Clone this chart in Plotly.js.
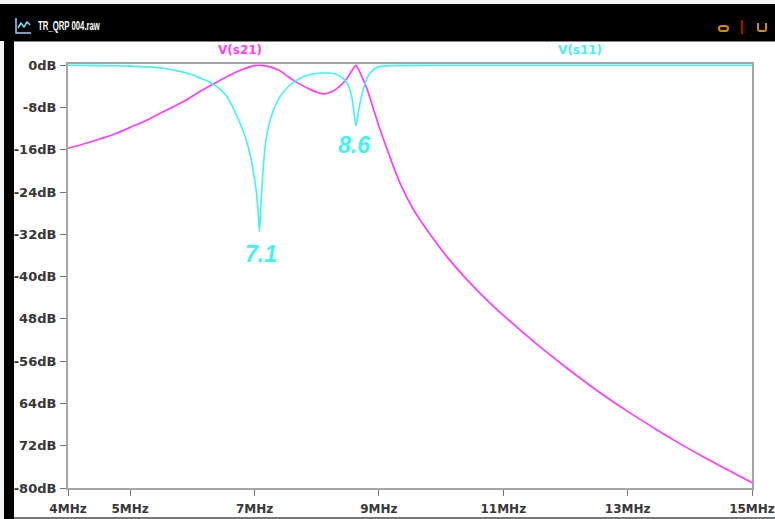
<!DOCTYPE html>
<html>
<head>
<meta charset="utf-8">
<script src="https://cdn.plot.ly/plotly-3.0.1.min.js"></script>
<style>
  html, body { margin: 0; padding: 0; background: #ffffff; }
  #win { position: relative; width: 775px; height: 519px; overflow: hidden; background: #f4f4f4; }
  #titlebar { position: absolute; left: 0; top: 4px; width: 775px; height: 37px; background: #000; }
  #leftbar { position: absolute; left: 4px; top: 40px; width: 10px; height: 479px; background: #000; }
  #panel { position: absolute; left: 14px; top: 41px; width: 761px; height: 475px; background: #fff; border-top: 1px solid #888; border-bottom: 2px solid #777; }
  #ttl { position: absolute; left: 38px; top: 19px; color: #fff; font-family: "Liberation Sans", Arial, sans-serif; font-weight: bold; font-size: 12.5px; transform: scaleX(0.62); transform-origin: left center; white-space: nowrap; }
  #icon { position: absolute; left: 15px; top: 18px; width: 17px; height: 16px; }
  #plot { position: absolute; left: 0; top: 0; width: 775px; height: 519px; }
  .ic1 { position: absolute; left: 718px; top: 25px; width: 11px; height: 7px; border: 2px solid #d98c00; border-radius: 4px; box-sizing: border-box; }
  .ic2 { position: absolute; left: 741px; top: 20px; width: 2px; height: 14px; background: #c00000; }
  .ic3 { position: absolute; left: 757px; top: 23px; width: 10px; height: 9px; border: 2px solid #d98c00; border-top: none; border-radius: 0 0 3px 3px; box-sizing: border-box; }
</style>
</head>
<body>
<div id="win">
  <div id="titlebar"></div>
  <svg id="icon" viewBox="0 0 17 16">
    <polyline points="1,0 1,15 16,15" fill="none" stroke="#9fd0ff" stroke-width="1.5"/>
    <polyline points="3,10 6,5 9,9 12,4 15,7" fill="none" stroke="#7fe0ff" stroke-width="1.5"/>
  </svg>
  <div id="ttl">TR_QRP 004.raw</div>
  <div class="ic1"></div><div class="ic2"></div><div class="ic3"></div>
  <div id="leftbar"></div>
  <div id="panel"></div>
  <div id="plot"></div>
</div>
<script>
// ---- data ----
const tickFreqs = [4, 5, 7, 9, 11, 13, 15];
const tickFreqLabels = ["4MHz", "5MHz", "7MHz", "9MHz", "11MHz", "13MHz", "15MHz"];
const tickDb = [0, -8, -16, -24, -32, -40, -48, -56, -64, -72, -80];
const tickDbLabels = ["0dB", "-8dB", "-16dB", "-24dB", "-32dB", "-40dB", "48dB", "-56dB", "64dB", "72dB", "-80dB"];

const s21Freq = [4.0, 4.25, 4.5, 4.75, 5.05, 5.3, 5.53, 5.75, 5.91, 6.1, 6.33, 6.5, 6.65, 6.8, 6.95, 7.05, 7.15, 7.25, 7.4, 7.5, 7.62, 7.75, 7.9, 8.0, 8.1, 8.2, 8.3, 8.4, 8.48, 8.55, 8.6, 8.63, 8.67, 8.72, 8.81, 8.9, 9.02, 9.15, 9.34, 9.55, 9.8, 10.1, 10.42, 10.7, 11.0, 11.5, 12.0, 12.5, 13.0, 13.5, 13.84, 14.2, 14.6, 15.0];
const s21Db = [-15.7, -14.9, -14.0, -13.0, -11.5, -10.2, -8.8, -7.5, -6.5, -5.1, -3.6, -2.5, -1.6, -0.8, -0.2, 0.0, -0.05, -0.3, -1.0, -1.8, -2.8, -3.7, -4.6, -5.1, -5.4, -5.2, -4.6, -3.6, -2.6, -1.3, -0.4, 0.0, -0.7, -2.0, -4.5, -7.8, -12.2, -16.5, -22.3, -27.2, -31.6, -36.3, -40.6, -44.0, -47.3, -52.4, -57.1, -61.5, -65.5, -69.2, -71.6, -74.0, -76.5, -79.0];

const s11Freq = [4.0, 4.5, 5.0, 5.3, 5.5, 5.75, 6.0, 6.12, 6.25, 6.4, 6.55, 6.65, 6.75, 6.85, 6.92, 6.98, 7.03, 7.06, 7.08, 7.1, 7.13, 7.17, 7.22, 7.3, 7.4, 7.52, 7.65, 7.8, 7.95, 8.1, 8.25, 8.35, 8.45, 8.52, 8.57, 8.6, 8.63, 8.66, 8.7, 8.75, 8.81, 8.88, 8.95, 9.05, 9.2, 10.0, 15.0];
const s11Db = [0.0, -0.05, -0.15, -0.3, -0.5, -1.0, -1.8, -2.4, -3.0, -4.1, -5.8, -7.9, -10.5, -13.5, -16.5, -20.0, -24.0, -28.0, -31.5, -27.0, -21.0, -15.5, -11.8, -8.6, -6.1, -4.3, -3.0, -2.1, -1.6, -1.45, -1.5, -1.9, -2.8, -4.1, -6.5, -9.0, -11.5, -9.5, -7.0, -4.5, -2.4, -1.2, -0.5, -0.15, -0.05, 0.0, 0.0];

const traceNames = ["V(s21)", "V(s11)"];
const markerLabels = ["7.1", "8.6"];
const markerFreqs = [7.1, 8.6];
const markerLabelDb = [-35.7, -15.1];

const MAG = "#ff3cff";
const CYA = "#3ef4f4";

const traces = [
  { x: s21Freq, y: s21Db, type: "scatter", mode: "lines", name: traceNames[0],
    line: { color: MAG, width: 1.7, shape: "spline", smoothing: 0.8 }, hoverinfo: "skip" },
  { x: s11Freq, y: s11Db, type: "scatter", mode: "lines", name: traceNames[1],
    line: { color: CYA, width: 1.6, shape: "spline", smoothing: 0.6 }, hoverinfo: "skip" }
];

const yTickFont = { family: "DejaVu Sans, Arial, sans-serif", size: 13, color: "#383838", weight: "bold" };
const xTickFont = { family: "DejaVu Sans, Arial, sans-serif", size: 12, color: "#383838", weight: "bold" };

const layout = {
  width: 775, height: 519,
  margin: { l: 68, r: 23, t: 64, b: 31, pad: 0 },
  paper_bgcolor: "rgba(0,0,0,0)",
  plot_bgcolor: "#ffffff",
  showlegend: false,
  xaxis: {
    range: [4, 15], tickmode: "array", tickvals: tickFreqs, ticktext: tickFreqLabels,
    showgrid: false, zeroline: false, showline: true, linecolor: "#a6a6a6", linewidth: 2, mirror: true,
    ticks: "outside", ticklen: 6, tickcolor: "#777", tickwidth: 1, ticklabelstandoff: 3,
    ticklabeloverflow: "allow", tickfont: xTickFont, fixedrange: true
  },
  yaxis: {
    range: [-80, 0.25], tickmode: "array", tickvals: tickDb, ticktext: tickDbLabels,
    showgrid: false, zeroline: false, showline: true, linecolor: "#a6a6a6", linewidth: 2, mirror: true,
    ticks: "outside", ticklen: 6, tickcolor: "#777", tickwidth: 1, ticklabelstandoff: 1,
    ticklabeloverflow: "allow", tickfont: yTickFont, fixedrange: true
  },
  annotations: [
    { xref: "paper", yref: "paper", x: (240 - 68) / 684, y: (488 - 50) / 424, text: traceNames[0],
      showarrow: false, xanchor: "center", yanchor: "middle",
      font: { family: "DejaVu Sans, Arial, sans-serif", size: 12, color: MAG, weight: "bold" } },
    { xref: "paper", yref: "paper", x: (580 - 68) / 684, y: (488 - 50) / 424, text: traceNames[1],
      showarrow: false, xanchor: "center", yanchor: "middle",
      font: { family: "DejaVu Sans, Arial, sans-serif", size: 12, color: CYA, weight: "bold" } },
    { x: markerFreqs[0], y: markerLabelDb[0], text: markerLabels[0], showarrow: false,
      xanchor: "center", yanchor: "middle",
      font: { family: "Liberation Sans, Arial, sans-serif", size: 23, color: CYA, weight: "bold", style: "italic" } },
    { x: markerFreqs[1], y: markerLabelDb[1], text: markerLabels[1], showarrow: false,
      xanchor: "center", yanchor: "middle",
      font: { family: "Liberation Sans, Arial, sans-serif", size: 23, color: CYA, weight: "bold", style: "italic" } }
  ]
};

Plotly.newPlot("plot", traces, layout, { staticPlot: true, displayModeBar: false });
</script>
</body>
</html>
